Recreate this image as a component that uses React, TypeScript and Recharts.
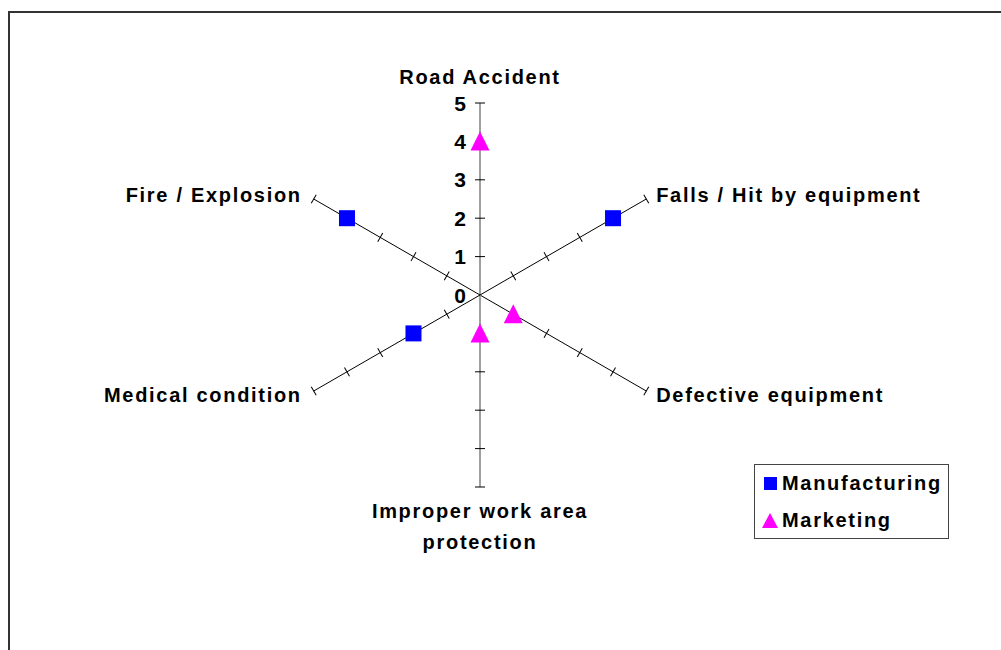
import { RadarChart, Radar, PolarAngleAxis, PolarRadiusAxis, Legend } from 'recharts';

const categories = [
  'Road Accident',
  'Falls / Hit by equipment',
  'Defective equipment',
  'Improper work area protection',
  'Medical condition',
  'Fire / Explosion',
];
const manufacturing = [null, 4, null, null, 2, 4];
const marketing = [4, null, 1, 1, null, null];
const radiusTicks = [0, 1, 2, 3, 4, 5];

const data = categories.map((category, i) => ({
  category,
  Manufacturing: manufacturing[i],
  Marketing: marketing[i],
}));

const FONT = '"Liberation Sans", Arial, sans-serif';
const BLUE = '#0000FF';
const MAGENTA = '#FF00FF';

// one spoke per category, clockwise from the top
const spokes = [
  { angle: 90, color: '#808080', width: 1.5, labels: true },
  { angle: 30, color: '#000', width: 1, labels: false },
  { angle: -30, color: '#000', width: 1, labels: false },
  { angle: -90, color: '#808080', width: 1.5, labels: false },
  { angle: -150, color: '#000', width: 1, labels: false },
  { angle: 150, color: '#000', width: 1, labels: false },
];

const textStyle = { fontFamily: FONT, fontWeight: 700, fontSize: 20, letterSpacing: 1.7, fill: '#000' };

function makeRadiusTick(showLabel: boolean) {
  return (props: any) => {
    const { x, y, transform, payload } = props;
    const v = payload?.value;
    return (
      <g>
        {v !== 0 && (
          <line x1={x - 5} y1={y} x2={x + 5} y2={y} transform={transform} stroke="#000" strokeWidth={1} />
        )}
        {showLabel && (
          <text x={x - 14} y={y} textAnchor="end" dominantBaseline="central" style={{ ...textStyle, fontSize: 21, letterSpacing: 0 }}>
            {v}
          </text>
        )}
      </g>
    );
  };
}

function AngleTick(props: any) {
  const { x, y, textAnchor, payload } = props;
  const label: string = payload.value;
  if (textAnchor === 'middle') {
    const top = y < 300;
    let lines = [label];
    if (label.length > 25) {
      const cut = label.lastIndexOf(' ', 20);
      lines = [label.slice(0, cut), label.slice(cut + 1)];
    }
    return (
      <text x={x} y={y} textAnchor="middle" style={textStyle}>
        {lines.map((l, i) => (
          <tspan key={i} x={x} y={top ? y - 11 : y + 23 + i * 31}>
            {l}
          </tspan>
        ))}
      </text>
    );
  }
  const dx = textAnchor === 'start' ? 3 : -5;
  return (
    <text x={x + dx} y={y + 7} textAnchor={textAnchor} style={textStyle}>
      {label}
    </text>
  );
}

// blank cells get no marker
function hasValue(p: any) {
  if (!Number.isFinite(p.cx) || !Number.isFinite(p.cy)) return false;
  const pl = p.payload;
  if (pl && p.dataKey && p.dataKey in pl) return pl[p.dataKey] != null;
  if (pl && pl.payload && p.dataKey in pl.payload) return pl.payload[p.dataKey] != null;
  return true;
}

function SquareDot(props: any) {
  const { cx, cy, index } = props;
  if (!hasValue(props)) return <g key={`m-${index}`} />;
  return <rect key={`m-${index}`} x={cx - 8} y={cy - 8} width={16} height={16} fill={BLUE} />;
}

function TriangleDot(props: any) {
  const { cx, cy, index } = props;
  if (!hasValue(props)) return <g key={`k-${index}`} />;
  return (
    <polygon
      key={`k-${index}`}
      points={`${cx},${cy - 10} ${cx + 9.5},${cy + 9} ${cx - 9.5},${cy + 9}`}
      fill={MAGENTA}
    />
  );
}

function LegendBox() {
  return (
    <div
      style={{
        width: 193,
        height: 73,
        border: '1px solid #444',
        background: '#fff',
        position: 'relative',
        fontFamily: FONT,
        fontWeight: 700,
        fontSize: 20,
        letterSpacing: 1.7,
        color: '#000',
      }}
    >
      <div style={{ position: 'absolute', left: 9, top: 12, width: 13, height: 13, background: BLUE }} />
      <div style={{ position: 'absolute', left: 27, top: 7, lineHeight: '22px' }}>Manufacturing</div>
      <svg style={{ position: 'absolute', left: 6, top: 47 }} width={18} height={17}>
        <polygon points="9,1 17,16 1,16" fill={MAGENTA} />
      </svg>
      <div style={{ position: 'absolute', left: 27, top: 44, lineHeight: '22px' }}>Marketing</div>
    </div>
  );
}

export default function App() {
  return (
    <div
      style={{
        position: 'absolute',
        left: 8,
        top: 11,
        width: 993,
        height: 639,
        borderTop: '2px solid #333',
        borderLeft: '2px solid #333',
        boxSizing: 'border-box',
        background: '#fff',
      }}
    >
      <RadarChart width={991} height={637} data={data} cx={470} cy={282} outerRadius={192}>
        <PolarAngleAxis dataKey="category" axisLine={false} tickLine={false} tick={AngleTick} />
        {spokes.map((s) => (
          <PolarRadiusAxis
            key={s.angle}
            angle={s.angle}
            type="number"
            domain={[0, 5]}
            ticks={radiusTicks}
            allowDataOverflow
            axisLine={{ stroke: s.color, strokeWidth: s.width }}
            stroke={s.color}
            tick={makeRadiusTick(s.labels)}
          />
        ))}
        <Radar
          name="Manufacturing"
          dataKey="Manufacturing"
          stroke="none"
          fill="none"
          dot={SquareDot}
          isAnimationActive={false}
        />
        <Radar
          name="Marketing"
          dataKey="Marketing"
          stroke="none"
          fill="none"
          dot={TriangleDot}
          isAnimationActive={false}
        />
        <Legend
          content={() => <LegendBox />}
          wrapperStyle={{ position: 'absolute', left: 744, top: 451, width: 195, height: 75 }}
        />
      </RadarChart>
    </div>
  );
}
